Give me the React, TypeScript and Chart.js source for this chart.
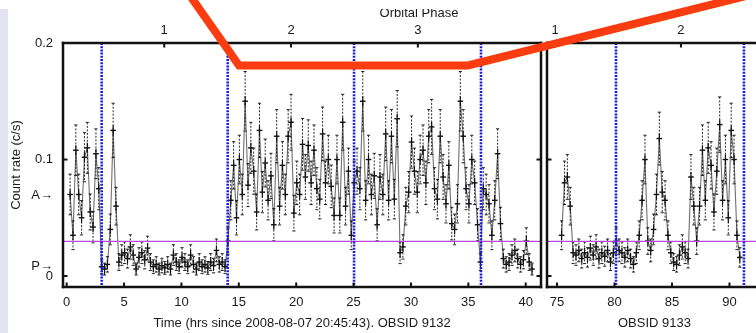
import React, { useEffect, useRef } from 'react';
import { Chart, registerables } from 'chart.js';

Chart.register(...registerables);

// ---------- data ----------
const BIN_H = 0.25; // light-curve bin width (hours)
const EXPOSURE_S = 230; // effective exposure per bin used for Poisson error bars
const RATE_FLOOR = 0.004;

const LEFT_START_H = 0.3;
const LEFT_RATE = [
  0.070, 0.035, 0.108, 0.070,
  0.050, 0.102, 0.110, 0.055,
  0.042, 0.105, 0.075, 0.008,
  0.006, 0.010, 0.040, 0.125,
  0.060, 0.012, 0.018, 0.020,
  0.015, 0.025, 0.018, 0.006,
  0.016, 0.020, 0.014, 0.024,
  0.012, 0.008, 0.010, 0.006,
  0.009, 0.007, 0.010, 0.006,
  0.018, 0.012, 0.008, 0.016,
  0.012, 0.008, 0.018, 0.010,
  0.006, 0.012, 0.008, 0.010,
  0.007, 0.012, 0.009, 0.022,
  0.010, 0.012, 0.008, 0.030,
  0.065, 0.095, 0.050, 0.100,
  0.070, 0.150, 0.078, 0.110,
  0.090, 0.055, 0.125, 0.072,
  0.097, 0.065, 0.086, 0.044,
  0.120, 0.060, 0.095, 0.070,
  0.120, 0.132, 0.054, 0.080,
  0.070, 0.113, 0.085, 0.112,
  0.080, 0.108, 0.075, 0.066,
  0.122, 0.080, 0.100, 0.077,
  0.052, 0.100, 0.052, 0.132,
  0.060, 0.090, 0.035, 0.080,
  0.090, 0.075, 0.150, 0.065,
  0.100, 0.070, 0.086, 0.044,
  0.085, 0.070, 0.122, 0.065,
  0.120, 0.066, 0.135, 0.020,
  0.025, 0.060, 0.072, 0.115,
  0.090, 0.072, 0.100, 0.108,
  0.080, 0.120, 0.128, 0.075,
  0.066, 0.120, 0.085, 0.062,
  0.095, 0.045, 0.040, 0.062,
  0.150, 0.120, 0.075, 0.062,
  0.100, 0.080, 0.044, 0.012,
  0.075, 0.070, 0.062, 0.035,
  0.065, 0.105, 0.045, 0.015,
  0.010, 0.012, 0.018, 0.022,
  0.015, 0.010, 0.014, 0.030,
  0.012, 0.006,
];

const RIGHT_START_H = 75.4;
const RIGHT_RATE = [
  0.035, 0.080, 0.085, 0.060,
  0.020, 0.018, 0.022, 0.015,
  0.020, 0.016, 0.024, 0.018,
  0.025, 0.015, 0.020, 0.017,
  0.022, 0.012, 0.020, 0.030,
  0.022, 0.020, 0.016, 0.022,
  0.015, 0.010, 0.020, 0.035,
  0.065, 0.100, 0.030, 0.022,
  0.040, 0.070, 0.118, 0.072,
  0.065, 0.035, 0.020, 0.012,
  0.010, 0.018, 0.025, 0.020,
  0.015, 0.085, 0.060, 0.030,
  0.060, 0.108, 0.065, 0.110,
  0.095, 0.055, 0.090, 0.130,
  0.065, 0.100, 0.050, 0.125,
  0.100, 0.035, 0.016,
];

const LEFT_X_RANGE = [-0.32, 41.33];
const RIGHT_X_RANGE = [74.13, 92.83];
const Y_RANGE = [-0.0094, 0.2];

const LEFT_X_TICKS = [0, 5, 10, 15, 20, 25, 30, 35, 40];
const RIGHT_X_TICKS = [75, 80, 85, 90];
const Y_TICKS = [0, 0.1, 0.2];
const Y_TICK_LABELS = ['0', '0.1', '0.2'];
const Y_MARKERS = [0.0086, 0.069];
const Y_MARKER_LABELS = ['P\u2192', 'A\u2192'];

const LEFT_PHASE_CENTERS = [8.5, 19.55, 30.6];
const LEFT_PHASE_LABELS = ['1', '2', '3'];
const RIGHT_PHASE_CENTERS = [74.83, 85.78];
const RIGHT_PHASE_LABELS = ['1', '2'];
const LEFT_PHASE_EDGES = [3.05, 14.03, 25.04, 36.1];
const RIGHT_PHASE_EDGES = [80.13, 91.26];

const THRESHOLD_RATE = 0.0298;

// hand-drawn red annotation, in the left panel's (time, rate) coordinates
const ANNOTATION_T = [10.4, 15.02, 34.97, 62.14];
const ANNOTATION_RATE = [0.2455, 0.1807, 0.1807, 0.2476];

const LEFT_TITLE = 'Time (hrs since 2008-08-07 20:45:43). OBSID 9132';
const RIGHT_TITLE = 'OBSID 9133';
const Y_TITLE = 'Count rate (c/s)';
const TOP_TITLE = 'Orbital Phase';

// ---------- styling ----------
const FAMILY = "'Liberation Sans', Arial, sans-serif";
const FONT = { family: FAMILY, size: 13 };
const INK = '#1a1a1a';

type Panel = {
  main: boolean;
  start: number;
  rates: number[];
  xRange: number[];
  xTicks: number[];
  phaseCenters: number[];
  phaseLabels: string[];
  phaseEdges: number[];
  title: string;
  padding: { left: number; right: number; top: number; bottom: number };
};

const LEFT_PANEL: Panel = {
  main: true,
  start: LEFT_START_H,
  rates: LEFT_RATE,
  xRange: LEFT_X_RANGE,
  xTicks: LEFT_X_TICKS,
  phaseCenters: LEFT_PHASE_CENTERS,
  phaseLabels: LEFT_PHASE_LABELS,
  phaseEdges: LEFT_PHASE_EDGES,
  title: LEFT_TITLE,
  padding: { left: 0, right: 4, top: 0, bottom: 0 },
};

const RIGHT_PANEL: Panel = {
  main: false,
  start: RIGHT_START_H,
  rates: RIGHT_RATE,
  xRange: RIGHT_X_RANGE,
  xTicks: RIGHT_X_TICKS,
  phaseCenters: RIGHT_PHASE_CENTERS,
  phaseLabels: RIGHT_PHASE_LABELS,
  phaseEdges: RIGHT_PHASE_EDGES,
  title: RIGHT_TITLE,
  padding: { left: 547, right: 38, top: 0, bottom: 0 },
};

function line(ctx: CanvasRenderingContext2D, x1: number, y1: number, x2: number, y2: number) {
  ctx.beginPath();
  ctx.moveTo(x1, y1);
  ctx.lineTo(x2, y2);
  ctx.stroke();
}

// overlay drawn on the top canvas: page strip, cropped top title and red annotation
function overlayPlugin(getLeft: () => any) {
  return {
    id: 'overlay',
    afterDraw(chart: any) {
      const left = getLeft();
      if (!left) return;
      const { ctx } = chart;
      const xs = left.scales.x;
      const ys = left.scales.y;
      ctx.save();
      ctx.fillStyle = '#e2e2f1';
      ctx.fillRect(0, 9, 8, 333);
      ctx.fillStyle = INK;
      ctx.font = `13px ${FAMILY}`;
      ctx.textAlign = 'center';
      ctx.textBaseline = 'alphabetic';
      ctx.fillText(TOP_TITLE, 419, 16.5);
      ctx.fillStyle = '#ffffff';
      ctx.fillRect(0, 0, 800, 9);
      ctx.strokeStyle = '#fb3b10';
      ctx.lineWidth = 8;
      ctx.lineJoin = 'miter';
      ctx.lineCap = 'butt';
      ctx.beginPath();
      ANNOTATION_T.forEach((t, i) => {
        const x = xs.getPixelForValue(t);
        const y = ys.getPixelForValue(ANNOTATION_RATE[i]);
        if (i === 0) ctx.moveTo(x, y);
        else ctx.lineTo(x, y);
      });
      ctx.stroke();
      ctx.restore();
    },
  };
}

function panelPlugin(p: Panel) {
  return {
    id: 'panelDecor',
    afterDatasetsDraw(chart: any) {
      const { ctx, chartArea: a } = chart;
      const xs = chart.scales.x;
      const ys = chart.scales.y;
      ctx.save();
      ctx.beginPath();
      ctx.rect(a.left, a.top, a.right - a.left, a.bottom - a.top);
      ctx.clip();
      // error bars
      ctx.strokeStyle = '#111';
      p.rates.forEach((r, i) => {
        const t = p.start + i * BIN_H;
        const e = Math.sqrt(Math.max(r, RATE_FLOOR) / EXPOSURE_S);
        const x = xs.getPixelForValue(t);
        const y = ys.getPixelForValue(r);
        const yh = ys.getPixelForValue(r + e);
        const yl = ys.getPixelForValue(r - e);
        ctx.lineWidth = 0.9;
        ctx.setLineDash([2, 1.5]);
        line(ctx, x, yh, x, yl);
        ctx.setLineDash([]);
        ctx.lineWidth = 1.2;
        line(ctx, x, y - 5, x, y + 5);
        ctx.lineWidth = 0.9;
        line(ctx, x - 1.6, yh, x + 1.6, yh);
        line(ctx, x - 1.6, yl, x + 1.6, yl);
        ctx.lineWidth = 1.4;
        line(ctx, x - 2.8, y, x + 2.8, y);
      });
      // threshold line
      const yT = ys.getPixelForValue(THRESHOLD_RATE);
      ctx.strokeStyle = '#b848dc';
      ctx.lineWidth = 1.3;
      line(ctx, a.left, yT, a.right, yT);
      // phase boundaries
      ctx.strokeStyle = '#1c1ce0';
      ctx.lineWidth = 2.6;
      ctx.setLineDash([2, 1.2]);
      p.phaseEdges.forEach((t) => {
        const x = xs.getPixelForValue(t);
        line(ctx, x, a.top, x, a.bottom);
      });
      ctx.restore();
    },
    afterDraw(chart: any) {
      const { ctx, chartArea: a } = chart;
      const xs = chart.scales.x;
      const ys = chart.scales.y;
      ctx.save();
      // frame
      ctx.strokeStyle = '#111';
      ctx.lineWidth = 2.5;
      ctx.lineCap = 'square';
      line(ctx, a.left, a.top, a.right, a.top);
      line(ctx, a.left, a.bottom, a.right, a.bottom);
      line(ctx, a.left, a.top, a.left, a.bottom);
      line(ctx, a.right, a.top, a.right, a.bottom);
      ctx.lineCap = 'butt';
      // inward ticks
      ctx.lineWidth = 2;
      const TL = 4.5;
      Y_TICKS.forEach((v) => {
        const y = ys.getPixelForValue(v);
        line(ctx, a.left, y, a.left + TL, y);
        line(ctx, a.right - TL, y, a.right, y);
      });
      p.xTicks.forEach((v) => {
        const x = xs.getPixelForValue(v);
        line(ctx, x, a.bottom, x, a.bottom - TL);
      });
      p.phaseCenters.forEach((v) => {
        const x = xs.getPixelForValue(v);
        line(ctx, x, a.top, x, a.top + TL);
      });
      ctx.restore();
    },
  };
}

function buildConfig(p: Panel, extra: any[]): any {
  const pts = p.rates.map((r, i) => ({ x: p.start + i * BIN_H, y: r }));
  const noGrid = { display: false, drawTicks: false };
  const noBorder = { display: false };
  return {
    type: 'line',
    data: {
      datasets: [
        {
          data: pts,
          borderColor: '#707070',
          borderWidth: 1.1,
          pointRadius: 0,
          tension: 0,
          xAxisID: 'x',
          yAxisID: 'y',
        },
      ],
    },
    options: {
      animation: false,
      responsive: false,
      devicePixelRatio: 1,
      events: [],
      layout: { padding: p.padding },
      plugins: { legend: { display: false }, tooltip: { enabled: false } },
      scales: {
        x: {
          type: 'linear',
          position: 'bottom',
          min: p.xRange[0],
          max: p.xRange[1],
          grid: noGrid,
          border: noBorder,
          afterBuildTicks: (s: any) => {
            s.ticks = p.xTicks.map((v) => ({ value: v }));
          },
          afterFit: (s: any) => {
            s.height = 46;
          },
          ticks: {
            autoSkip: false,
            maxRotation: 0,
            padding: 8,
            font: FONT,
            color: INK,
            callback: (v: number) => String(v),
          },
          title: {
            display: true,
            text: p.title,
            font: FONT,
            color: INK,
            padding: { top: 0, bottom: 2 },
          },
        },
        xTop: {
          type: 'linear',
          position: 'top',
          min: p.xRange[0],
          max: p.xRange[1],
          grid: noGrid,
          border: noBorder,
          afterBuildTicks: (s: any) => {
            s.ticks = p.phaseCenters.map((v) => ({ value: v }));
          },
          afterFit: (s: any) => {
            s.height = 43;
          },
          ticks: {
            autoSkip: false,
            maxRotation: 0,
            padding: 5,
            font: FONT,
            color: INK,
            callback: (_v: number, i: number) => p.phaseLabels[i],
          },
        },
        y: {
          type: 'linear',
          position: 'left',
          display: p.main,
          min: Y_RANGE[0],
          max: Y_RANGE[1],
          grid: noGrid,
          border: noBorder,
          afterBuildTicks: (s: any) => {
            s.ticks = [...Y_TICKS, ...Y_MARKERS].sort((m, n) => m - n).map((v) => ({ value: v }));
          },
          afterFit: (s: any) => {
            s.width = p.main ? 63 : 0;
          },
          ticks: {
            autoSkip: false,
            padding: 10,
            font: FONT,
            color: INK,
            callback: (v: number) => {
              const i = Y_TICKS.indexOf(v);
              if (i >= 0) return Y_TICK_LABELS[i];
              const j = Y_MARKERS.indexOf(v);
              return j >= 0 ? Y_MARKER_LABELS[j] : '';
            },
          },
          title: {
            display: p.main,
            text: Y_TITLE,
            font: FONT,
            color: INK,
            padding: { top: 9, bottom: 0 },
          },
        },
      },
    },
    plugins: [panelPlugin(p), ...extra],
  };
}

export default function App() {
  const leftRef = useRef<HTMLCanvasElement>(null);
  const rightRef = useRef<HTMLCanvasElement>(null);

  useEffect(() => {
    const left = new Chart(leftRef.current as HTMLCanvasElement, buildConfig(LEFT_PANEL, []));
    const right = new Chart(
      rightRef.current as HTMLCanvasElement,
      buildConfig(RIGHT_PANEL, [overlayPlugin(() => left)])
    );
    return () => {
      right.destroy();
      left.destroy();
    };
  }, []);

  return (
    <div
      style={{
        position: 'absolute',
        left: 0,
        top: 0,
        width: 756,
        height: 333,
        overflow: 'hidden',
        background: '#ffffff',
      }}
    >
      <canvas
        ref={leftRef}
        width={545}
        height={333}
        style={{ position: 'absolute', left: 0, top: 0, zIndex: 1 }}
      />
      <canvas
        ref={rightRef}
        width={800}
        height={333}
        style={{ position: 'absolute', left: 0, top: 0, zIndex: 2 }}
      />
    </div>
  );
}
